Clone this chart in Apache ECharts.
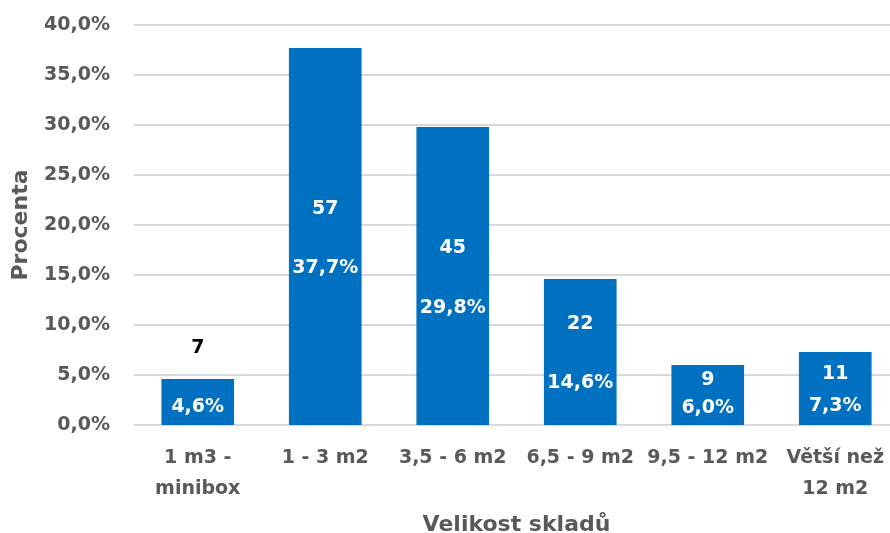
<!DOCTYPE html>
<html>
<head>
<meta charset="utf-8">
<script src="https://cdn.jsdelivr.net/npm/echarts@6/dist/echarts.min.js"></script>
<style>
  html, body { margin: 0; padding: 0; background: #fff; }
  #chart { width: 890px; height: 533px; }
</style>
</head>
<body>
<div id="chart"></div>
<script>
// Storage unit sizes, number of responses and share of responses
const categories = ['1 m3 -\nminibox', '1 - 3 m2', '3,5 - 6 m2', '6,5 - 9 m2', '9,5 - 12 m2', 'Větší než\n12 m2'];
const counts = [7, 57, 45, 22, 9, 11];
const percents = [4.6, 37.7, 29.8, 14.6, 6.0, 7.3];
const yTicks = [0, 5, 10, 15, 20, 25, 30, 35, 40];

// Label spacing inside each bar (distance between the count line and the percent line, vertical shift)
const labelGap = [59, 59, 60, 59, 28, 32];
const labelShift = [-24, 2, 2, 2, -1, 2];

const FONT = '"DejaVu Sans", sans-serif';
const GREY = '#595959';

const fmtPct = v => v.toFixed(1).replace('.', ',') + '%';

const barData = percents.map((v, i) => ({
  value: v,
  label: {
    offset: [0, labelShift[i]],
    rich: {
      n: { color: i === 0 ? '#000000' : '#ffffff', fontFamily: FONT, fontWeight: 700, fontSize: 19, lineHeight: labelGap[i], align: 'center' },
      p: { color: '#ffffff', fontFamily: FONT, fontWeight: 700, fontSize: 19, lineHeight: labelGap[i], align: 'center' }
    }
  }
}));

const chart = echarts.init(document.getElementById('chart'), null, { renderer: 'canvas' });
chart.setOption({
  animation: false,
  grid: { left: 134, right: -9, top: 25, bottom: 108, containLabel: false, outerBoundsMode: 'none' },
  xAxis: {
    type: 'category',
    data: categories,
    axisLine: { show: false },
    axisTick: { show: false },
    axisLabel: {
      color: GREY, fontFamily: FONT, fontWeight: 700, fontSize: 19,
      lineHeight: 31, margin: 18, interval: 0
    },
    name: 'Velikost skladů',
    nameLocation: 'middle',
    nameGap: 89,
    nameTextStyle: { color: GREY, fontFamily: FONT, fontWeight: 700, fontSize: 22 }
  },
  yAxis: {
    type: 'value',
    min: yTicks[0],
    max: yTicks[yTicks.length - 1],
    interval: yTicks[1] - yTicks[0],
    axisLine: { show: false },
    axisTick: { show: false },
    splitLine: { lineStyle: { color: '#d9d9d9', width: 2 } },
    axisLabel: {
      color: GREY, fontFamily: FONT, fontWeight: 700, fontSize: 19, margin: 24,
      formatter: v => fmtPct(v)
    },
    name: 'Procenta',
    nameLocation: 'middle',
    nameGap: 102,
    nameRotate: 90,
    nameTextStyle: { color: GREY, fontFamily: FONT, fontWeight: 700, fontSize: 22 }
  },
  series: [{
    type: 'bar',
    data: barData,
    barCategoryGap: '43%',
    itemStyle: { color: '#0070c0' },
    label: {
      show: true,
      position: 'inside',
      formatter: p => '{n|' + counts[p.dataIndex] + '}\n{p|' + fmtPct(p.value) + '}'
    }
  }]
});
</script>
</body>
</html>
